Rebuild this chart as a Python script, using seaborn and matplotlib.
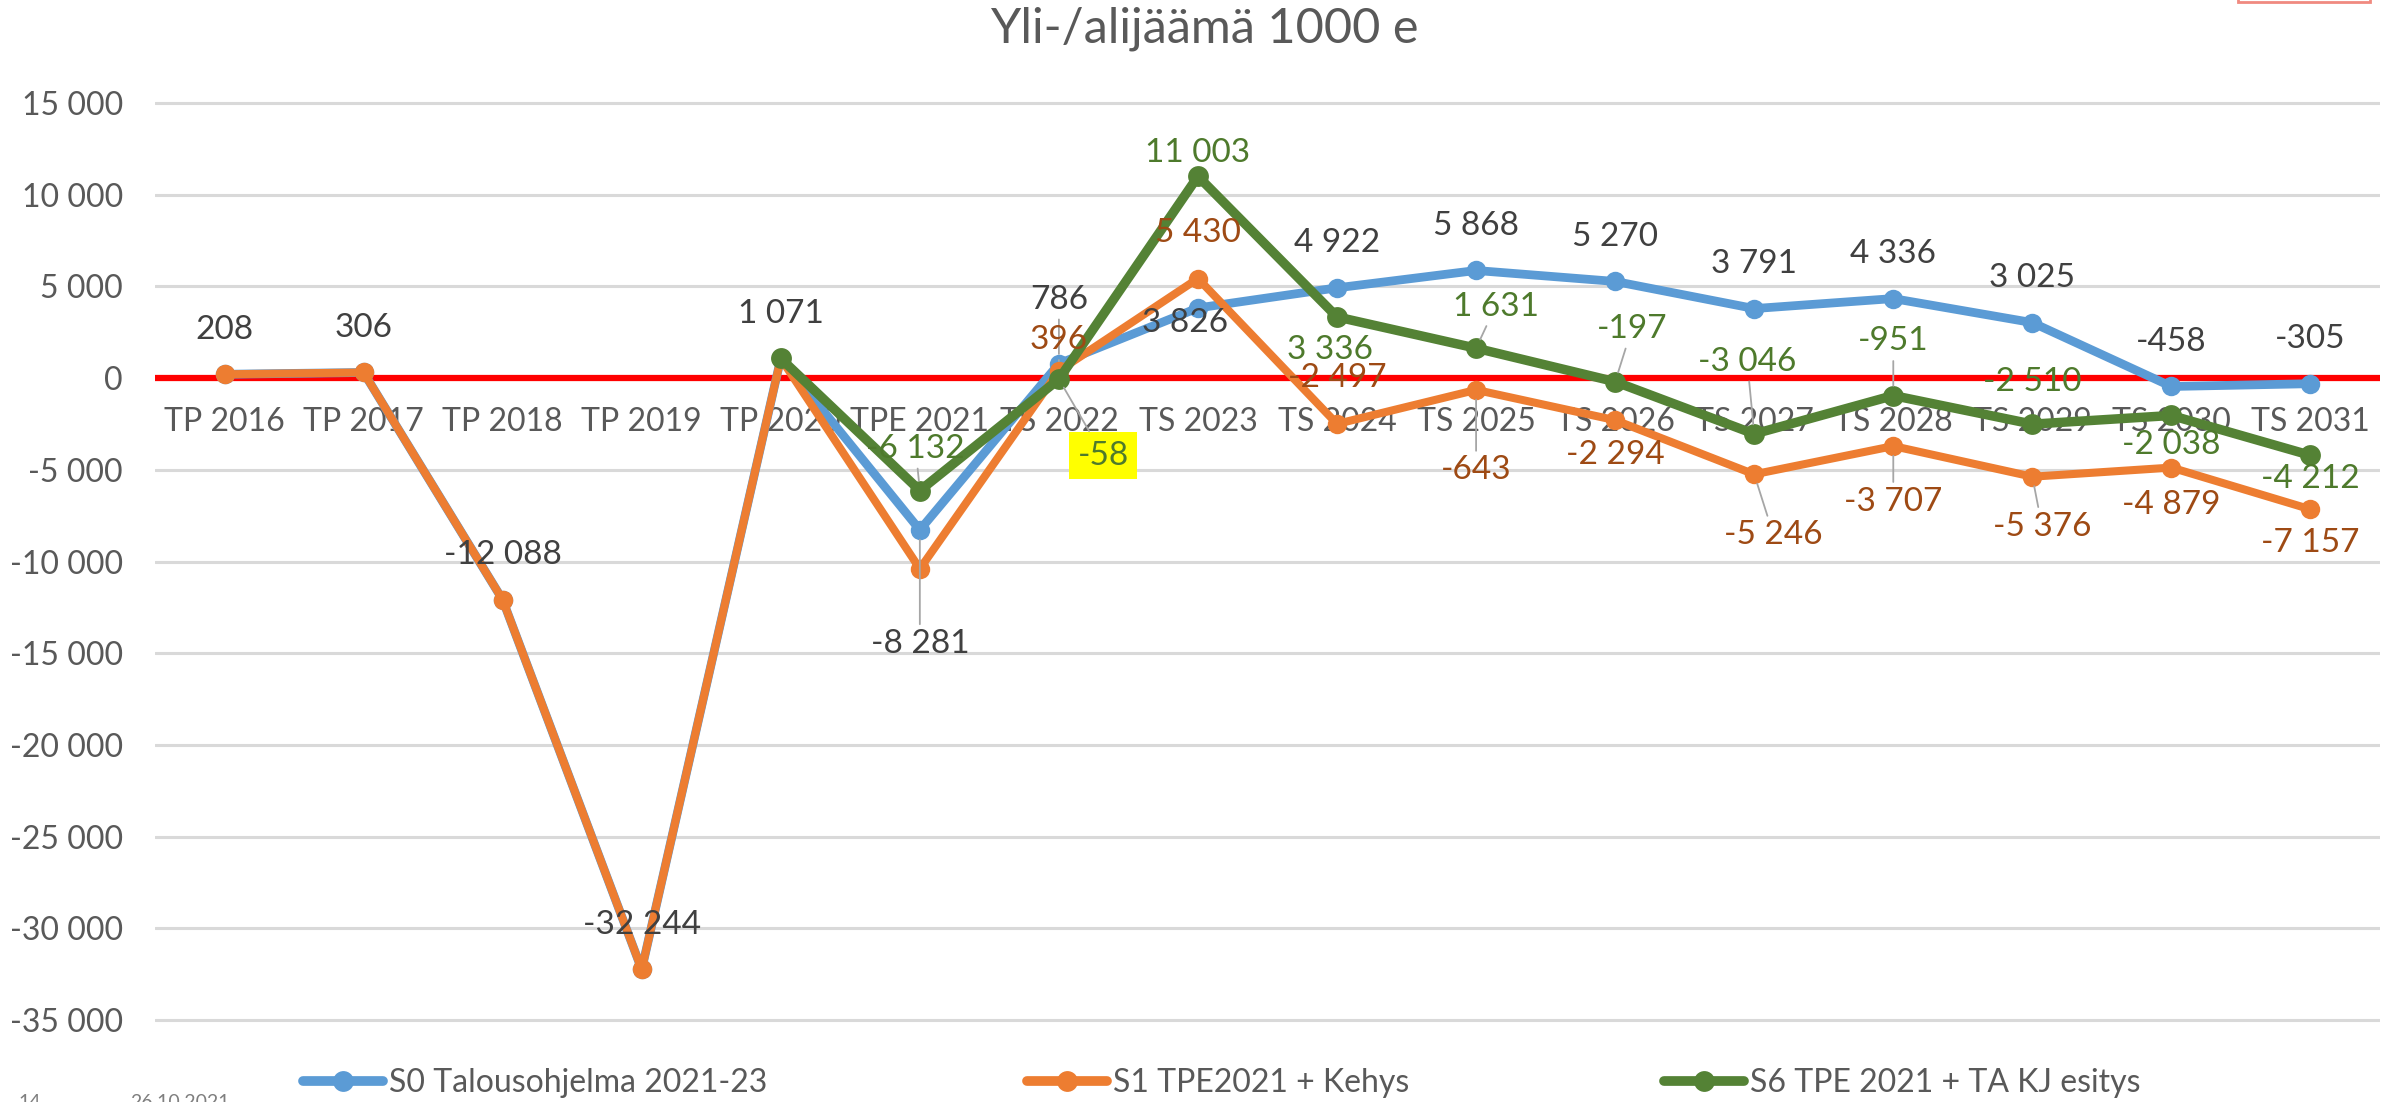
import matplotlib
matplotlib.use("Agg")
import matplotlib.pyplot as plt
from matplotlib.lines import Line2D
from matplotlib.patches import Rectangle
from matplotlib.ticker import FuncFormatter, MultipleLocator
import numpy as np
import pandas as pd
import seaborn as sns

# Data
categories = ["TP 2016", "TP 2017", "TP 2018", "TP 2019", "TP 2020", "TPE 2021",
              "TS 2022", "TS 2023", "TS 2024", "TS 2025", "TS 2026", "TS 2027",
              "TS 2028", "TS 2029", "TS 2030", "TS 2031"]

s0_values = [208, 306, -12088, -32244, 1071, -8281, 786, 3826, 4922, 5868,
             5270, 3791, 4336, 3025, -458, -305]
s1_values = [208, 306, -12088, -32244, 1071, -10400, 396, 5430, -2497, -643,
             -2294, -5246, -3707, -5376, -4879, -7157]
s6_values = [np.nan, np.nan, np.nan, np.nan, 1071, -6132, -58, 11003, 3336, 1631,
             -197, -3046, -951, -2510, -2038, -4212]

series_names = ["S0 Talousohjelma 2021-23", "S1 TPE2021 + Kehys", "S6 TPE 2021 + TA KJ esitys"]

# label placement: (dx pt, dy pt, leader line) or None = no label
s0_labels = [(0, 32, False), (0, 32, False), (0, 32, False), (0, 32, False), (0, 32, False),
             (0, -82, True), (0, 46, True), (-9, -11, False), (0, 32, False), (0, 32, False),
             (0, 32, False), (0, 32, False), (0, 32, False), (0, 32, False), (0, 32, False),
             (0, 32, False)]
s1_labels = [None, None, None, None, None, None,
             (0, 22, True), (0, 33, False), (0, 33, False), (0, -58, True),
             (0, -25, False), (14, -44, True), (0, -40, True), (7, -36, True),
             (0, -27, False), (0, -24, False)]
s6_labels = [None, None, None, None, None,
             (-3, 30, True), (32, -55, True), (0, 17, False), (-5, -24, False), (14, 30, True),
             (12, 38, True), (-5, 52, True), (0, 39, True), (0, 30, False),
             (0, -21, False), (0, -17, False)]

colors = ["#5b9bd5", "#ed7d31", "#548235"]
label_colors = ["#404040", "#9e4a14", "#4e7a2c"]
TEXT = "#595959"

sns.set_style("white")
plt.rcParams["font.family"] = ["Lato", "DejaVu Sans"]

W, H = 2394, 1102
fig = plt.figure(figsize=(W / 100, H / 100), dpi=100)
px_per_unit = 91.7 / 5000
pad = 200
y_lo, y_hi = -35000 - pad, 15000 + pad
top_px = 103 - pad * px_per_unit
bot_px = 1020 + pad * px_per_unit
ax = fig.add_axes([155 / W, 1 - bot_px / H, (2380 - 155) / W, (bot_px - top_px) / H])

pos = np.arange(len(categories))
df = pd.DataFrame({
    "pos": np.tile(pos, 3),
    "value": s0_values + s1_values + s6_values,
    "series": np.repeat(series_names, len(categories)),
})

styles = [(6.3, 14), (5.8, 14), (6.8, 15)]
for name, color, (lw, ms) in zip(series_names, colors, styles):
    sub = df[df["series"] == name].dropna()
    sns.lineplot(data=sub, x="pos", y="value", color=color, linewidth=lw,
                 marker="o", markersize=ms, markeredgewidth=0, errorbar=None,
                 legend=False, ax=ax, zorder=3)

ax.axhline(0, color="#ff0000", lw=4.5, zorder=2)
ax.set_xlim(-0.5, 15.5)
ax.set_ylim(y_lo, y_hi)
ax.yaxis.set_major_locator(MultipleLocator(5000))
ax.yaxis.set_major_formatter(FuncFormatter(lambda v, p: f"{v:,.0f}".replace(",", " ")))
ax.yaxis.grid(True, color="#d9d9d9", lw=2.2)
ax.set_axisbelow(True)
ax.set_xticks([])
ax.set_xlabel("")
ax.set_ylabel("")
ax.tick_params(axis="y", length=0, pad=23, labelsize=23, labelcolor=TEXT)
for s in ax.spines.values():
    s.set_visible(False)

# category labels sit just under the zero line
for i, c in enumerate(categories):
    ax.text(i, -2380, c, ha="center", va="center", fontsize=23, color=TEXT, zorder=1.5)

# data labels
for vals, labs, lc in zip([s0_values, s1_values, s6_values],
                          [s0_labels, s1_labels, s6_labels], label_colors):
    for i, (v, lab) in enumerate(zip(vals, labs)):
        if lab is None or np.isnan(v):
            continue
        dx, dy, leader = lab
        txt = f"{int(v):,}".replace(",", " ")
        kw = {}
        if leader:
            kw["arrowprops"] = dict(arrowstyle="-", color="#a6a6a6", lw=1.3,
                                    shrinkA=1, shrinkB=7)
        if txt == "-58":
            kw["bbox"] = dict(boxstyle="square,pad=0.25", fc="#ffff00", ec="none")
        ax.annotate(txt, xy=(i, v), xytext=(dx, dy), textcoords="offset points",
                    ha="center", va="center", fontsize=24, color=lc, zorder=6, **kw)

fig.text(0.503, 1 - 29 / H, "Yli-/alijäämä 1000 e", ha="center", va="center",
         fontsize=35, color=TEXT)

# legend entries at their own positions
for name, color, x0 in zip(series_names, colors, [303, 1027, 1664]):
    h = Line2D([], [], color=color, lw=7, marker="o", markersize=15, markeredgewidth=0)
    fig.legend([h], [name], loc="center left", bbox_to_anchor=(x0 / W, 1 - 1083 / H),
               frameon=False, borderpad=0, borderaxespad=0, handlelength=2.5,
               handletextpad=0.2, fontsize=23, labelcolor=TEXT)

fig.text(18 / W, 1 - 1094 / H, "14", ha="left", va="top", fontsize=14, color="#7f7f7f")
fig.text(130 / W, 1 - 1094 / H, "26.10.2021", ha="left", va="top", fontsize=14, color="#7f7f7f")

fig.patches.append(Rectangle((2238 / W, 1 - 2 / H), 132 / W, 0.05, transform=fig.transFigure,
                             fc="white", ec="#f08a80", lw=2, clip_on=False))

fig.savefig("out.png", dpi=100)
